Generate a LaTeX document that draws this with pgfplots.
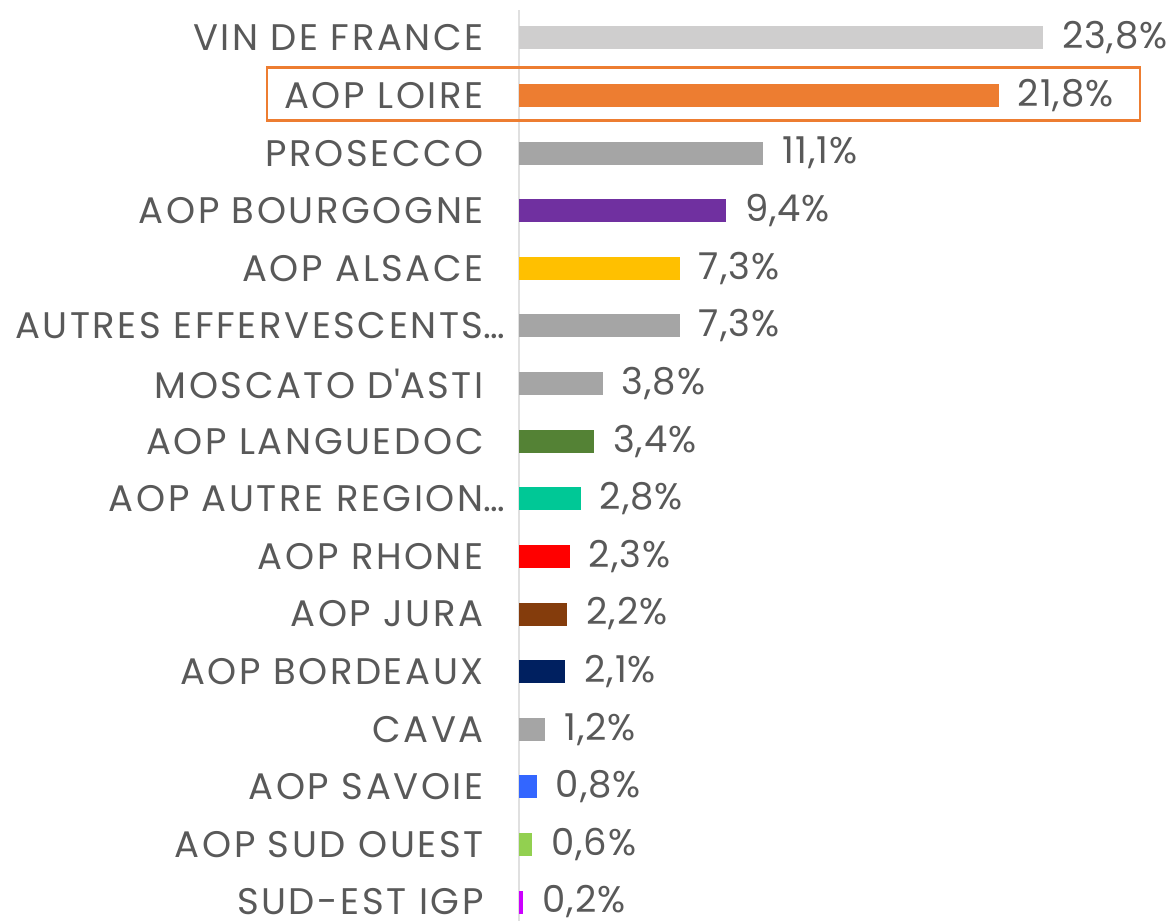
\documentclass[border=0pt]{standalone}
\usepackage{pgfplots}
\pgfplotsset{compat=1.18}
\usepackage{fontspec}
\setmainfont{Poppins}[LetterSpace=7]
\newfontfamily\numfont{Poppins}[LetterSpace=2.5]
\definecolor{txt}{HTML}{595959}
\definecolor{cVin}{HTML}{CFCECE}
\definecolor{cLoire}{HTML}{ED7D31}
\definecolor{cGris}{HTML}{A5A5A5}
\definecolor{cBourg}{HTML}{7030A0}
\definecolor{cAls}{HTML}{FFC000}
\definecolor{cLang}{HTML}{548235}
\definecolor{cAutre}{HTML}{00C896}
\definecolor{cRhone}{HTML}{FF0000}
\definecolor{cJura}{HTML}{843C0C}
\definecolor{cBord}{HTML}{002060}
\definecolor{cSav}{HTML}{3366FF}
\definecolor{cSO}{HTML}{92D050}
\definecolor{cSE}{HTML}{CC00FF}
\begin{document}
\begin{tikzpicture}
\begin{axis}[
  scale only axis,
  width=324.5pt, height=455.5pt,
  xbar, bar width=11.5pt, bar shift=0pt,
  xmin=0, xmax=29.5,
  ymin=-0.486, ymax=15.33,
  y dir=reverse,
  axis x line=none,
  axis y line=left,
  axis line style={draw=black!12, line width=0.8pt, -},
  ytick={0,...,15},
  major tick length=0pt,
  yticklabels={VIN DE FRANCE, AOP LOIRE, PROSECCO, AOP BOURGOGNE, AOP ALSACE, AUTRES EFFERVESCENTS\rlap{…}, MOSCATO D\textquotesingle ASTI, AOP LANGUEDOC, AOP AUTRE REGION\rlap{…}, AOP RHONE, AOP JURA, AOP BORDEAUX, CAVA, AOP SAVOIE, AOP SUD OUEST, SUD-EST IGP},
  yticklabel style={font=\fontsize{18.5}{20}\selectfont, text=txt, anchor=east, inner sep=0pt, xshift=-17.5pt},
  point meta=x,
  nodes near coords={\pgfmathprintnumber[fixed,fixed zerofill,precision=1,use comma,assume math mode=true]{\pgfplotspointmeta}\%},
  nodes near coords style={font=\numfont\fontsize{18.5}{20}\selectfont, text=txt, anchor=west, inner sep=0pt, xshift=9.5pt},
  every axis plot/.append style={draw=none},
  clip=false,
]
\addplot[fill=cVin] coordinates {(23.8,0)};
\addplot[fill=cLoire] coordinates {(21.8,1)};
\addplot[fill=cGris] coordinates {(11.1,2)};
\addplot[fill=cBourg] coordinates {(9.4,3)};
\addplot[fill=cAls] coordinates {(7.3,4)};
\addplot[fill=cGris] coordinates {(7.3,5)};
\addplot[fill=cGris] coordinates {(3.8,6)};
\addplot[fill=cLang] coordinates {(3.4,7)};
\addplot[fill=cAutre] coordinates {(2.8,8)};
\addplot[fill=cRhone] coordinates {(2.3,9)};
\addplot[fill=cJura] coordinates {(2.2,10)};
\addplot[fill=cBord] coordinates {(2.1,11)};
\addplot[fill=cGris] coordinates {(1.2,12)};
\addplot[fill=cSav] coordinates {(0.8,13)};
\addplot[fill=cSO] coordinates {(0.6,14)};
\addplot[fill=cSE] coordinates {(0.2,15)};
\draw[cLoire, line width=1.25pt] (axis cs:-11.45,0.514) rectangle (axis cs:28.23,1.434);
\end{axis}
\pgfresetboundingbox
\path (current axis.south west) ++(-259.5pt,0pt) coordinate (bbl);
\path (current axis.north east) ++(0pt,5pt) coordinate (bbr);
\path[use as bounding box] (bbl) rectangle (bbr);
\end{tikzpicture}
\end{document}
